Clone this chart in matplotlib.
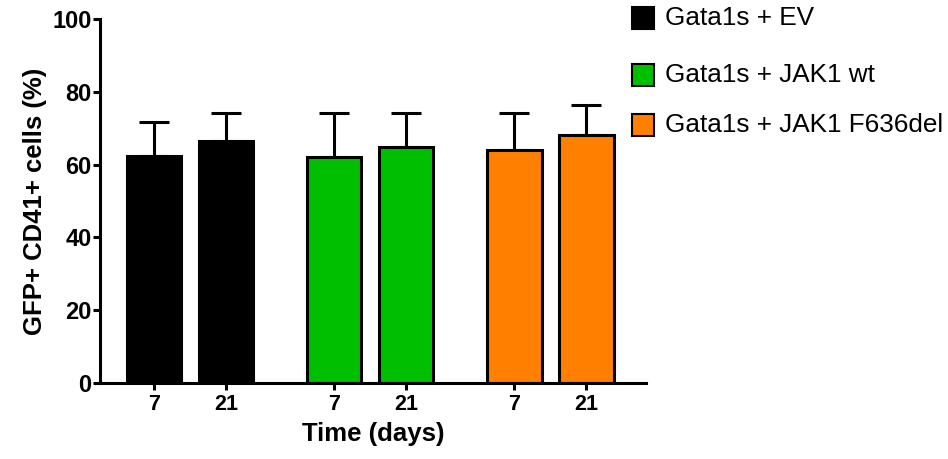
import matplotlib
matplotlib.use("Agg")
import matplotlib.pyplot as plt
from matplotlib.patches import Rectangle

plt.rcParams['font.family'] = ['Liberation Sans', 'DejaVu Sans']

# Data
groups = ["Gata1s + EV", "Gata1s + JAK1 wt", "Gata1s + JAK1 F636del"]
colors = ["#000000", "#00BF00", "#FF8000"]
days = ["7", "21"]
means = [[62.4, 66.6], [62.0, 64.8], [63.9, 68.2]]
sems = [[9.4, 7.5], [12.1, 9.3], [10.4, 8.3]]

positions = [[0, 1], [2.5, 3.5], [5, 6]]

fig = plt.figure(figsize=(9.48, 4.59), dpi=100)
ax = fig.add_axes([0.1055, 0.1656, 0.5759, 0.793])

lw = 2.2
for pos, m, e, c in zip(positions, means, sems, colors):
    ax.errorbar(pos, m, yerr=[[0] * len(e), e], fmt='none', ecolor='black',
                elinewidth=lw, capsize=10.5, capthick=lw, zorder=1)
    ax.bar(pos, m, width=0.76, color=c, edgecolor='black', linewidth=lw, zorder=2)

ax.set_xlim(-0.75, 6.83)
ax.set_ylim(0, 100)
ax.set_yticks([0, 20, 40, 60, 80, 100])
ax.set_xticks([p for grp in positions for p in grp])
ax.set_xticklabels(days * 3)

for s in ['top', 'right']:
    ax.spines[s].set_visible(False)
for s in ['left', 'bottom']:
    ax.spines[s].set_linewidth(lw)
ax.tick_params(axis='both', width=lw, length=5, direction='out')
ax.tick_params(axis='y', labelsize=17, pad=1)
ax.tick_params(axis='x', labelsize=15.5, pad=3)
for lab in ax.get_xticklabels() + ax.get_yticklabels():
    lab.set_fontweight('bold')

ax.set_ylabel("GFP+ CD41+ cells (%)", fontsize=18.5, fontweight='bold', labelpad=4)
ax.set_xlabel("Time (days)", fontsize=18.5, fontweight='bold', labelpad=5)

# Legend drawn as figure-level squares and labels
W, H = 948, 459
row_y = [18, 75, 125]
for yc, lab, c in zip(row_y, groups, colors):
    sq = 22
    fig.patches.append(Rectangle(((632) / W, (H - yc - sq / 2) / H), sq / W, sq / H,
                                 transform=fig.transFigure, facecolor=c,
                                 edgecolor='black', linewidth=1.5))
    fig.text(665 / W, (H - yc) / H, lab, fontsize=18.8, va='center', ha='left')

fig.savefig("out.png", dpi=100)
